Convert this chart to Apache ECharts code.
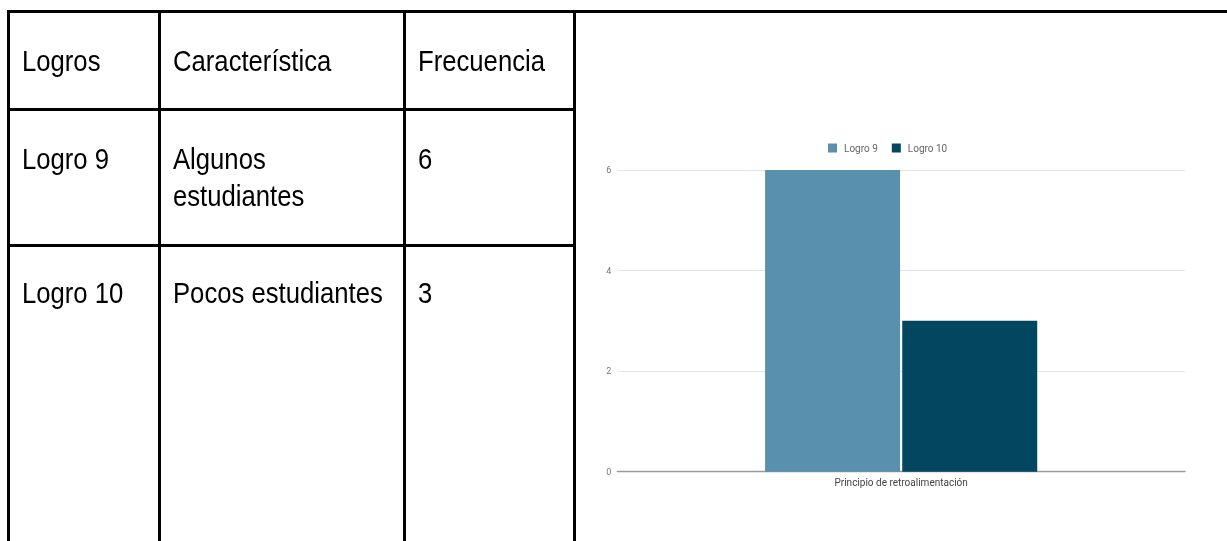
<!DOCTYPE html>
<html>
<head>
<meta charset="utf-8">
<script src="https://cdn.jsdelivr.net/npm/echarts@6/dist/echarts.min.js"></script>
<style>
  html, body { margin: 0; padding: 0; background: #fff; }
  #page { position: relative; width: 1227px; height: 541px; overflow: hidden; background: #fff; }
  .rule { position: absolute; background: #000; }
  .cell-text {
    position: absolute;
    font-family: "Liberation Sans", Arial, sans-serif;
    font-size: 29.5px;
    line-height: 37px;
    color: #000;
    transform: scaleX(0.87);
    transform-origin: 0 0;
    white-space: normal;
  }
  #chart { position: absolute; left: 576px; top: 13px; width: 651px; height: 528px; filter: blur(0.5px); }
</style>
</head>
<body>
<div id="page">
  <div id="chart"></div>
</div>
<script>
// Table content
const tableHeaders = ['Logros', 'Característica', 'Frecuencia'];
const achievements = ['Logro 9', 'Logro 10'];
const characteristics = ['Algunos estudiantes', 'Pocos estudiantes'];
const frequencies = [6, 3];

// Chart content
const chartCategories = ['Principio de retroalimentación'];
const seriesNames = achievements;
const seriesValues = frequencies;
const yMin = 0, yMax = 6, yStep = 2;

// ---- table layout ----
const page = document.getElementById('page');
const colLines = [7, 158, 403, 573];      // vertical rules (left edge, px)
const rowLines = [10, 108, 244];           // horizontal rules (top edge, px)
const textTops = [42.3, 140.3, 274.3];     // first text line top per row
const colWidths = [130, 248, 150];         // unscaled wrap widths

function rule(x, y, w, h) {
  const d = document.createElement('div');
  d.className = 'rule';
  Object.assign(d.style, { left: x + 'px', top: y + 'px', width: w + 'px', height: h + 'px' });
  page.appendChild(d);
}
// outer top edge runs across the chart cell too
rule(7, 10, 1227 - 7, 3);
rowLines.slice(1).forEach(y => rule(7, y, 573 + 3 - 7, 3));
colLines.forEach(x => rule(x, 10, 3, 541 - 10));

function cellText(col, row, txt) {
  const d = document.createElement('div');
  d.className = 'cell-text';
  d.textContent = txt;
  d.style.left = (colLines[col] + 15) + 'px';
  d.style.top = textTops[row] + 'px';
  d.style.width = colWidths[col] + 'px';
  page.appendChild(d);
}
tableHeaders.forEach((h, i) => cellText(i, 0, h));
achievements.forEach((a, r) => {
  cellText(0, r + 1, a);
  cellText(1, r + 1, characteristics[r]);
  cellText(2, r + 1, String(frequencies[r]));
});

// ---- chart ----
const colors = ['#5990ad', '#03465f'];
const chart = echarts.init(document.getElementById('chart'), null, { renderer: 'svg' });
chart.setOption({
  animation: false,
  textStyle: { fontFamily: 'Roboto, sans-serif' },
  legend: {
    left: 247,
    top: 125,
    itemWidth: 9,
    itemHeight: 9,
    itemGap: 14,
    icon: 'rect',
    textStyle: { fontSize: 10, color: '#666', padding: [0, 0, 0, 2] },
    data: seriesNames
  },
  grid: { left: 41.3, right: 42, top: 157, bottom: 69.3 },
  xAxis: {
    type: 'category',
    data: chartCategories,
    axisTick: { show: false },
    axisLine: { lineStyle: { color: '#9a9a9a', width: 1.3 } },
    axisLabel: { fontSize: 10, color: '#444', margin: 6 }
  },
  yAxis: {
    type: 'value',
    min: yMin,
    max: yMax,
    interval: yStep,
    axisLine: { show: false },
    axisTick: { show: false },
    axisLabel: { fontSize: 9, color: '#777', margin: 6 },
    splitLine: { lineStyle: { color: '#e4e4e4', width: 1.2 } }
  },
  series: seriesNames.map((name, i) => ({
    name: name,
    type: 'bar',
    barWidth: 135,
    barGap: '1.6%',
    itemStyle: { color: colors[i] },
    data: [seriesValues[i]]
  }))
});
</script>
</body>
</html>
